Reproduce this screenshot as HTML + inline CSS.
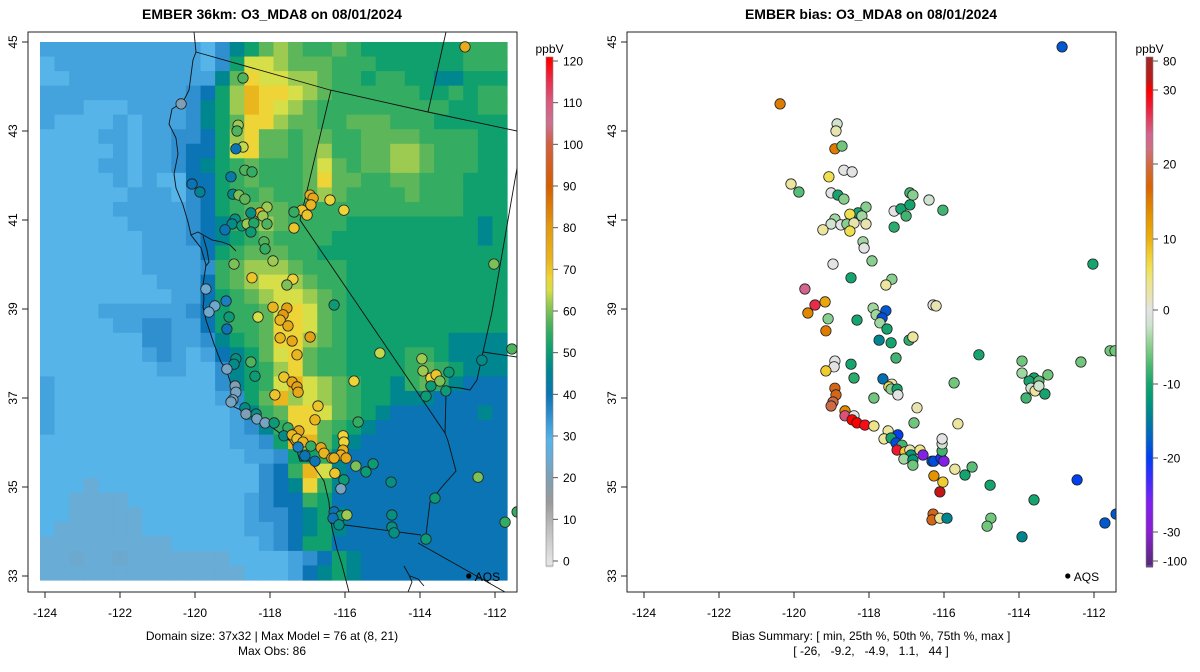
<!DOCTYPE html>
<html><head><meta charset="utf-8">
<style>
html,body{margin:0;padding:0;background:#fff;}
svg{display:block;font-family:"Liberation Sans",Arial,sans-serif;}
</style></head>
<body>
<svg id="fig" width="1200" height="672" viewBox="0 0 1200 672" xmlns="http://www.w3.org/2000/svg">
<defs>
<clipPath id="clipL"><rect x="28" y="32" width="489" height="560"/></clipPath>
<clipPath id="clipR"><rect x="627" y="32" width="489" height="560"/></clipPath>
</defs>
<text x="272" y="19" text-anchor="middle" font-size="14" font-weight="bold">EMBER 36km: O3_MDA8 on 08/01/2024</text>
<text x="871" y="19" text-anchor="middle" font-size="14" font-weight="bold">EMBER bias: O3_MDA8 on 08/01/2024</text>
<g id="panelL"></g>
<g id="panelR"></g>
<g id="cbarL"></g>
<g id="cbarR"></g>
<text x="272" y="640" text-anchor="middle" font-size="12">Domain size: 37x32 | Max Model = 76 at (8, 21)</text>
<text x="272" y="655" text-anchor="middle" font-size="12">Max Obs: 86</text>
<text x="871" y="640" text-anchor="middle" font-size="12">Bias Summary: [ min, 25th %, 50th %, 75th %, max ]</text>
<text x="871" y="655" text-anchor="middle" font-size="12" xml:space="preserve">[ -26,   -9.2,   -4.9,   1.1,   44 ]</text>
</svg>
<script>
// ---- data ----
const xTicks = [-124,-122,-120,-118,-116,-114,-112];
const yTicks = [45,43,41,39,37,35,33];
const modelTicks = [0,10,20,30,40,50,60,70,80,90,100,110,120];
const biasTicks = [80,30,20,10,0,-10,-20,-30,-100];
const codeValues = {'0':24,'1':25,'2':29,'3':32,'4':35,'5':40,'6':46,'7':51,'8':55,'9':58,'a':62,'b':65,'c':68,'d':72,'e':76};
const modelRows = [
"33333333333"+"24679a98898"+"7777777888",
"23333333333"+"247bba999888"+"777777888",
"22333333333"+"369cbbaa9887887766777",
"3333333333"+"45"+"7adccba9888888778788",
"3332223333"+"46"+"7adcba98888888887788",
"3222232333"+"46"+"79cca998899988877777",
"222233233"+"445"+"7ac99899889999888877",
"222223233"+"455"+"7bc9989a8899aa988877",
"222233233"+"456"+"7898889b9899aa988877",
"222223232"+"255"+"7898889c998899888777",
"222222333"+"245"+"7889889a988889888777",
"222223333"+"345"+"789998888"+"88888888"+"777",
"222222333"+"345"+"689a98888"+"777777777"+"67",
"222222233"+"345"+"67898888"+"7777777777"+"67",
"222222233"+"335"+"78999887"+"777777777777",
"222222233"+"334"+"89aaa9888"+"77777777777",
"222222223"+"335"+"89abba988"+"77777777777",
"222222222"+"335"+"789abba98"+"77777777777",
"222233333"+"345"+"7889bcb98"+"77777777777",
"222223344"+"335"+"7889ccb98"+"77777777777",
"222222244"+"334"+"6789cca98"+"7777777"+"6666",
"222222234"+"323"+"5679bc988"+"7777887"+"6666",
"222222223"+"322"+"4678ac988"+"77778987"+"666",
"322222222"+"222"+"4678bdba9"+"87768986"+"555",
"322222222"+"222"+"3479daba9"+"87766655555",
"322222222"+"222"+"23689ccb9"+"87655555565",
"322222222"+"222"+"23468cc98"+"76555555555",
"222222222"+"222"+"23347dd97"+"65555555555",
"222222222"+"222"+"223347786"+"55555555555",
"222222222"+"222"+"222458db6"+"55555555555",
"222122222"+"222"+"222456c86"+"55555555555",
"221111222"+"222"+"223455875"+"55555555555",
"221111122"+"222"+"223445676"+"55555555555",
"211111122"+"222"+"223345676"+"55555555555",
"111111111"+"222"+"222345775"+"55555555555",
"110110111"+"111"+"122223457"+"65555555555",
"111111111"+"111"+"112223567"+"65555555555"
];
const obsLon = [-112.8,-118.72,-120.37,-118.85,-118.88,-118.72,-118.91,-118.67,-118.48,-119.04,-120.08,-119.87,-118.99,-118.83,-118.67,-116.93,-116.85,-116.91,-116.4,-116.03,-117.15,-117.36,-117.01,-117.36,-118.08,-118.27,-118.19,-118.51,-118.93,-119.01,-118.75,-118.61,-118.43,-118.51,-118.08,-119.2,-118.16,-118.13,-118.96,-117.92,-118.48,-117.39,-117.55,-119.71,-119.47,-119.17,-116.29,-112.03,-117.92,-117.55,-117.65,-117.73,-119.09,-118.32,-119.63,-119.15,-117.52,-116.93,-117.73,-117.41,-117.28,-118.51,-118.91,-118.96,-119.15,-118.4,-115.07,-117.63,-117.41,-117.28,-117.25,-117.87,-115.76,-118.93,-118.91,-118.99,-119.04,-118.67,-118.64,-118.37,-118.35,-118.13,-117.89,-116.72,-116.8,-115.65,-117.52,-117.23,-117.63,-117.41,-117.28,-117.12,-116.91,-117.25,-116.64,-116.56,-116.05,-116.03,-116.05,-116.11,-115.97,-116.35,-116.29,-117.07,-116.8,-115.71,-115.44,-115.25,-116.27,-116.03,-116.11,-114.77,-113.95,-113.92,-113.71,-113.57,-113.47,-113.23,-112.35,-113.84,-113.31,-113.71,-112.45,-111.73,-111.41,-111.55,-113.6,-116.29,-116.11,-115.95,-116.32,-116.16,-114.75,-114.75,-114.69,-113.84];
const obsLat = [44.89,44.19,43.61,43.13,43.0,42.64,42.6,42.12,42.08,41.97,41.81,41.63,41.58,41.56,41.47,41.56,41.49,41.34,41.45,41.22,41.22,41.18,41.11,40.82,41.29,41.16,41.09,41.16,41.02,40.91,40.87,40.91,40.93,40.73,40.91,40.78,40.51,40.35,40.01,40.08,39.7,39.67,39.54,39.45,39.07,39.18,39.09,40.01,39.04,39.02,38.87,38.75,38.82,38.82,38.93,38.55,38.62,38.37,38.35,38.28,37.97,37.81,37.88,37.76,37.65,37.49,38.01,37.47,37.36,37.25,37.13,37.07,37.38,37.27,37.13,36.96,36.91,36.78,36.64,36.64,36.53,36.44,36.44,36.82,36.51,36.46,36.33,36.26,36.15,36.17,36.08,36.01,35.92,35.9,35.88,35.76,36.15,36.01,35.83,35.72,35.65,35.65,35.65,35.7,35.58,35.47,35.34,35.52,35.31,35.16,34.96,35.11,37.88,37.61,37.45,37.52,37.38,37.58,37.85,37.04,37.16,37.27,35.22,34.21,34.44,38.1,34.75,34.44,34.35,34.37,34.3,34.15,34.37,34.1,33.97,33.83];
const obsVal = [75,57,20,62,57,64,40,57,55,42,40,45,47,60,58,74,76,72,68,68,70,55,70,70,62,72,62,48,48,47,50,62,53,50,57,40,57,55,60,62,70,68,60,24,24,38,50,60,72,78,80,72,50,65,24,40,76,78,72,76,72,57,48,47,22,50,64,70,76,78,76,70,68,20,22,22,22,47,20,48,22,22,50,70,72,55,55,76,47,72,70,72,55,38,76,72,68,68,74,74,76,76,74,40,40,60,50,50,70,50,22,48,62,62,68,70,60,50,47,50,50,50,60,55,55,57,50,40,50,62,40,48,48,48,48,50];
const biasLon = [-120.37,-118.85,-118.88,-118.91,-118.72,-118.67,-118.45,-119.07,-120.08,-119.87,-119.01,-118.83,-118.67,-118.08,-118.29,-118.19,-118.51,-118.91,-119.01,-118.75,-118.59,-118.4,-118.08,-118.51,-119.23,-118.16,-118.13,-117.92,-117.33,-117.15,-117.01,-116.91,-116.83,-116.91,-116.4,-116.03,-117.33,-118.96,-118.48,-117.39,-117.55,-119.71,-119.44,-119.17,-119.63,-119.09,-119.15,-118.32,-117.89,-117.81,-117.55,-117.65,-117.71,-117.52,-117.73,-117.41,-116.93,-116.83,-116.29,-116.21,-117.28,-115.07,-118.91,-118.93,-119.15,-118.48,-118.4,-117.63,-117.39,-117.47,-117.41,-117.25,-117.23,-117.87,-115.73,-116.72,-116.8,-115.63,-118.91,-118.88,-118.96,-119.01,-118.64,-118.64,-118.4,-118.45,-118.32,-118.11,-117.87,-117.49,-117.23,-117.6,-117.41,-117.28,-117.12,-117.25,-117.04,-116.91,-116.88,-117.07,-116.83,-116.83,-116.64,-116.56,-116.32,-116.27,-116.08,-116.0,-116.05,-116.05,-116.05,-115.71,-115.44,-115.25,-116.27,-116.03,-116.11,-114.77,-112.45,-113.6,-112.03,-113.92,-113.92,-113.6,-113.73,-113.47,-113.68,-113.57,-113.47,-113.31,-113.81,-113.23,-112.35,-111.57,-111.44,-116.29,-116.32,-116.11,-115.92,-114.75,-111.71,-111.41,-112.85,-114.85,-113.92];
const biasLat = [43.61,43.16,43.0,42.6,42.66,42.12,42.08,41.97,41.81,41.63,41.61,41.56,41.47,41.29,41.16,41.09,41.13,41.02,40.91,40.89,40.91,40.93,40.91,40.75,40.78,40.51,40.37,40.08,41.2,41.25,41.09,41.61,41.56,41.34,41.45,41.22,40.84,40.01,39.7,39.67,39.54,39.45,39.09,39.16,38.91,38.78,38.51,38.75,39.02,38.87,38.96,38.8,38.69,38.55,38.3,38.24,38.3,38.37,39.09,39.07,37.9,37.97,37.83,37.7,37.61,37.76,37.45,37.43,37.31,37.25,37.2,37.2,37.07,37.0,37.34,36.78,36.44,36.42,37.22,37.07,36.91,36.82,36.71,36.6,36.6,36.51,36.44,36.39,36.37,36.26,36.17,36.08,36.1,35.99,35.94,35.83,35.79,35.83,35.72,35.63,35.61,35.49,35.83,35.72,35.58,35.58,35.65,35.58,35.81,35.97,36.08,35.4,35.27,35.45,35.25,35.11,34.89,35.04,35.16,34.71,40.01,37.83,37.56,37.45,37.38,37.38,37.22,37.16,37.27,37.09,37.0,37.52,37.81,38.06,38.06,34.39,34.26,34.3,34.3,34.3,34.19,34.39,44.89,34.12,33.88];
const biasVal = [15,-2,2,15,-6,0,0,6,3,-7,0,-10,-5,-5,-10,-4,6,-4,-2,0,-5,2,2,6,3,-4,0,-5,0,-10,-8,-8,-5,-10,-2,-8,-9,0,-10,-5,3,24,27,11,14,-5,15,-10,-4,-4,-18,-19,-4,-10,-14,-10,-9,3,0,2,-8,-10,0,0,8,-10,-9,-16,2,6,-5,-10,0,-6,-6,2,-6,3,18,18,20,20,14,25,0,30,30,29,4,3,-20,3,-10,-19,-8,28,8,2,-12,-4,-12,-6,4,-27,-18,-19,-21,-27,-8,-2,0,3,-10,-7,13,8,44,-10,-20,-10,-10,-6,-4,-10,-10,-7,-2,3,-2,-10,-8,-6,-6,-6,-6,18,18,3,-14,-6,-18,-18,-18,-6,-14];
const aqsLon = [-112.7], aqsLat = [33.0];

// ---- axes ----
const PX0 = 45, PXD = 37.5, PY0 = 42, PYD = 44.5, OFF = 599;
function X(lon){ return PX0 + (lon + 124) * PXD; }
function Y(lat){ return PY0 + (45 - lat) * PYD; }
const GX0 = 40, GX1 = 507, GY0 = 42, GY1 = 580;

const NS = 'http://www.w3.org/2000/svg';
function mk(tag, attrs, parent){
  const e = document.createElementNS(NS, tag);
  for (const k in attrs) e.setAttribute(k, attrs[k]);
  if (parent) parent.appendChild(e);
  return e;
}
function hex(c){ return [parseInt(c.slice(1,3),16),parseInt(c.slice(3,5),16),parseInt(c.slice(5,7),16)]; }
function interp(stops, v){
  if (v <= stops[0][0]) return stops[0][1];
  for (let i=1;i<stops.length;i++){
    if (v <= stops[i][0]){
      const t = (v - stops[i-1][0])/(stops[i][0]-stops[i-1][0]);
      const a = hex(stops[i-1][1]), b = hex(stops[i][1]);
      return 'rgb('+a.map((x,j)=>Math.round(x+(b[j]-x)*t)).join(',')+')';
    }
  }
  return stops[stops.length-1][1];
}
const modelStops = [[0,'#e3e3e3'],[8,'#bdbdbd'],[14,'#9a9a9a'],[20,'#7f9fb4'],[25,'#69acd6'],[29,'#56b4e9'],[32,'#44a2dd'],[35,'#2f8fcf'],[40,'#0a74b4'],[46,'#00868f'],[51,'#10a06e'],[55,'#34ac62'],[58,'#5db75a'],[62,'#9dcb52'],[65,'#d6de48'],[68,'#eed437'],[72,'#eab61e'],[80,'#e39a10'],[90,'#d55e00'],[100,'#d06040'],[105,'#cc7090'],[110,'#d85c80'],[115,'#e83050'],[120,'#ff0000']];
const biasStops = [[-100,'#5a2a82'],[-30,'#8a1fd0'],[-26,'#8020f0'],[-22,'#2a30ff'],[-20,'#0040f0'],[-17,'#0066c0'],[-14,'#00858f'],[-12,'#009a78'],[-10,'#16a46e'],[-8,'#40b470'],[-6,'#70c67c'],[-4,'#a0d6a0'],[-2,'#cfe3cf'],[0,'#e3e3e3'],[2,'#e8e4b0'],[4,'#ede58a'],[6,'#f0e050'],[8,'#f0cc30'],[10,'#ecb010'],[13,'#e59400'],[17,'#d96400'],[20,'#d06a45'],[22,'#cf7080'],[24,'#d36490'],[26,'#e04060'],[28,'#f01830'],[30,'#ff0000'],[45,'#c01818'],[80,'#a02828']];

const mapPaths = [
 ['coastline','M194,32 L196,52 L193,60 L189,90 L183,102 L172,109 L169,124 L176,138 L178,154 L174,174 L176,188 L183,205 L188,222 L191,235 L201,248 L206,265 L203,285 L204,299 L203,307 L206,320 L214,344 L221,362 L226,369 L230,381 L233,391 L228,404 L243,411 L263,421 L277,431 L290,441 L297,451 L300,461 L310,461 L317,471 L324,481 L329,502 L330,515 L332,528 L337,549 L342,565 L349,592'],
 ['sf-bay','M191,235 L198,232 L205,236 L212,240 L222,242 L230,245 L236,251 M203,236 L207,250 L209,262 L206,266'],
 ['or-ca-border','M196,52 L330,90 L428,112 L517,131'],
 ['id-or-border','M428,112 L446,32'],
 ['ca-nv-border','M331,90 L300,220 L445,433'],
 ['colorado-river','M483,352 L477,380 L470,390 L460,388 L450,387 L446,395 L445,433 L448,441 L456,471 L441,488 L430,502 L428,518 L426,535'],
 ['nv-ut-border','M517,168 L492,312 L483,352'],
 ['az-ut-border','M483,352 L517,357'],
 ['mexico-border','M330,523 L421,535'],
 ['az-mexico-border','M418,543 L505,592'],
 ['baja-coast','M404,566 L409,575 L412,582 L408,592 M410,576 L418,579 L424,586']
];

function buildPanel(g, off, clipId, isModel){
  if (isModel){
    const hg = mk('g', {}, g);
    
    
    const nr = modelRows.length, nc = 32;
    const cw = (GX1-GX0)/nc, ch = (GY1-GY0)/nr;
    for (let r=0;r<nr;r++){
      for (let c=0;c<nc;c++){
        const code = modelRows[r][c] || '5';
        const v = codeValues[code];
        const cell = mk('rect', {x:(GX0+c*cw).toFixed(2), y:(GY0+r*ch).toFixed(2), width:(cw+0.6).toFixed(2), height:(ch+0.6).toFixed(2), fill:interp(modelStops, v)}, hg);
        
        
      }
    }
  }
  const mg = mk('g', {transform:'translate('+off+',0)', 'clip-path':'url(#'+clipId+')', fill:'none', stroke:'#111', 'stroke-width':'0.9'}, g);
  
  
  mapPaths.forEach(p=>{
    const el = mk('path', {d:p[1]}, mg);
    
    
  });
  const pg = mk('g', {'clip-path':'url(#'+clipId+')'}, g);
  
  
  const lon = isModel ? obsLon : biasLon, lat = isModel ? obsLat : biasLat, val = isModel ? obsVal : biasVal;
  for (let i=0;i<lon.length;i++){
    const c = mk('circle', {cx:(X(lon[i])+off).toFixed(1), cy:Y(lat[i]).toFixed(1), r:5.2, fill:interp(isModel?modelStops:biasStops, val[i]), stroke:'#222', 'stroke-width':'0.8'}, pg);
    
    
  }
  const ax = X(aqsLon[0])+off, ay = Y(aqsLat[0]);
  const ad = mk('circle', {cx:ax, cy:ay, r:2.6, fill:'#000'}, g);
  
  
  const at = mk('text', {x:ax+6, y:ay+5, 'font-size':'12'}, g);
  at.textContent = 'AQS';
  
  
  const box = mk('rect', {x:28+off, y:32, width:489, height:560, fill:'none', stroke:'#222', 'stroke-width':'1'}, g);
  
  
  xTicks.forEach(t=>{
    const x = X(t)+off;
    const tl = mk('line', {x1:x, y1:592, x2:x, y2:598, stroke:'#222'}, g);
    
    
    const tx = mk('text', {x:x, y:617, 'text-anchor':'middle', 'font-size':'12'}, g);
    tx.textContent = String(t);
    
    
  });
  yTicks.forEach(t=>{
    const y = Y(t);
    const tl = mk('line', {x1:28+off, y1:y, x2:22+off, y2:y, stroke:'#222'}, g);
    
    
    const tx = mk('text', {x:0, y:0, 'text-anchor':'middle', 'font-size':'12', transform:'translate('+(17+off)+','+y+') rotate(-90)'}, g);
    tx.textContent = String(t);
    
    
  });
}
buildPanel(document.getElementById('panelL'), 0, 'clipL', true);
buildPanel(document.getElementById('panelR'), OFF, 'clipR', false);

const CB_TOP = 57, CB_BOT = 566, CB_V0 = 561, CB_V1 = 61;
function modelPos(v){ return CB_V0 - (v/120)*(CB_V0-CB_V1); }
const biasPosY = [61,90,164,239,310,384,458,532,561];
function biasPos(v){
  for (let i=1;i<biasTicks.length;i++){
    if (v >= biasTicks[i]){
      const t = (biasTicks[i-1]-v)/(biasTicks[i-1]-biasTicks[i]);
      return biasPosY[i-1] + t*(biasPosY[i]-biasPosY[i-1]);
    }
  }
  return biasPosY[biasPosY.length-1];
}
function biasFromPos(y){
  if (y <= biasPosY[0]) return biasTicks[0];
  for (let i=1;i<biasPosY.length;i++){
    if (y <= biasPosY[i]){
      const t = (y-biasPosY[i-1])/(biasPosY[i]-biasPosY[i-1]);
      return biasTicks[i-1] + t*(biasTicks[i]-biasTicks[i-1]);
    }
  }
  return biasTicks[biasTicks.length-1];
}
function buildBar(g, x0, ticks, posFn, valFromY, stops){
  for (let y=CB_TOP; y<CB_BOT; y+=2){
    const v = valFromY(y+1);
    const s = mk('rect', {x:x0, y:y, width:7, height:2.4, fill:interp(stops, v)}, g);
    
    
  }
  const fr = mk('rect', {x:x0, y:CB_TOP, width:7, height:CB_BOT-CB_TOP, fill:'none', stroke:'#888', 'stroke-width':'0.6'}, g);
  
  
  ticks.forEach(t=>{
    const y = posFn(t);
    const tl = mk('line', {x1:x0+7, y1:y, x2:x0+12, y2:y, stroke:'#555'}, g);
    
    
    const tx = mk('text', {x:x0+17, y:y+4.5, 'font-size':'12'}, g);
    tx.textContent = String(t);
    
    
  });
  const u = mk('text', {x:x0+3.5, y:CB_TOP-4, 'text-anchor':'middle', 'font-size':'12'}, g);
  u.textContent = 'ppbV';
  
  
}
buildBar(document.getElementById('cbarL'), 546, modelTicks, modelPos, y=>Math.max(0,Math.min(120,(CB_V0-y)/(CB_V0-CB_V1)*120)), modelStops);
buildBar(document.getElementById('cbarR'), 1146, biasTicks, biasPos, biasFromPos, biasStops);
</script>
</body></html>
